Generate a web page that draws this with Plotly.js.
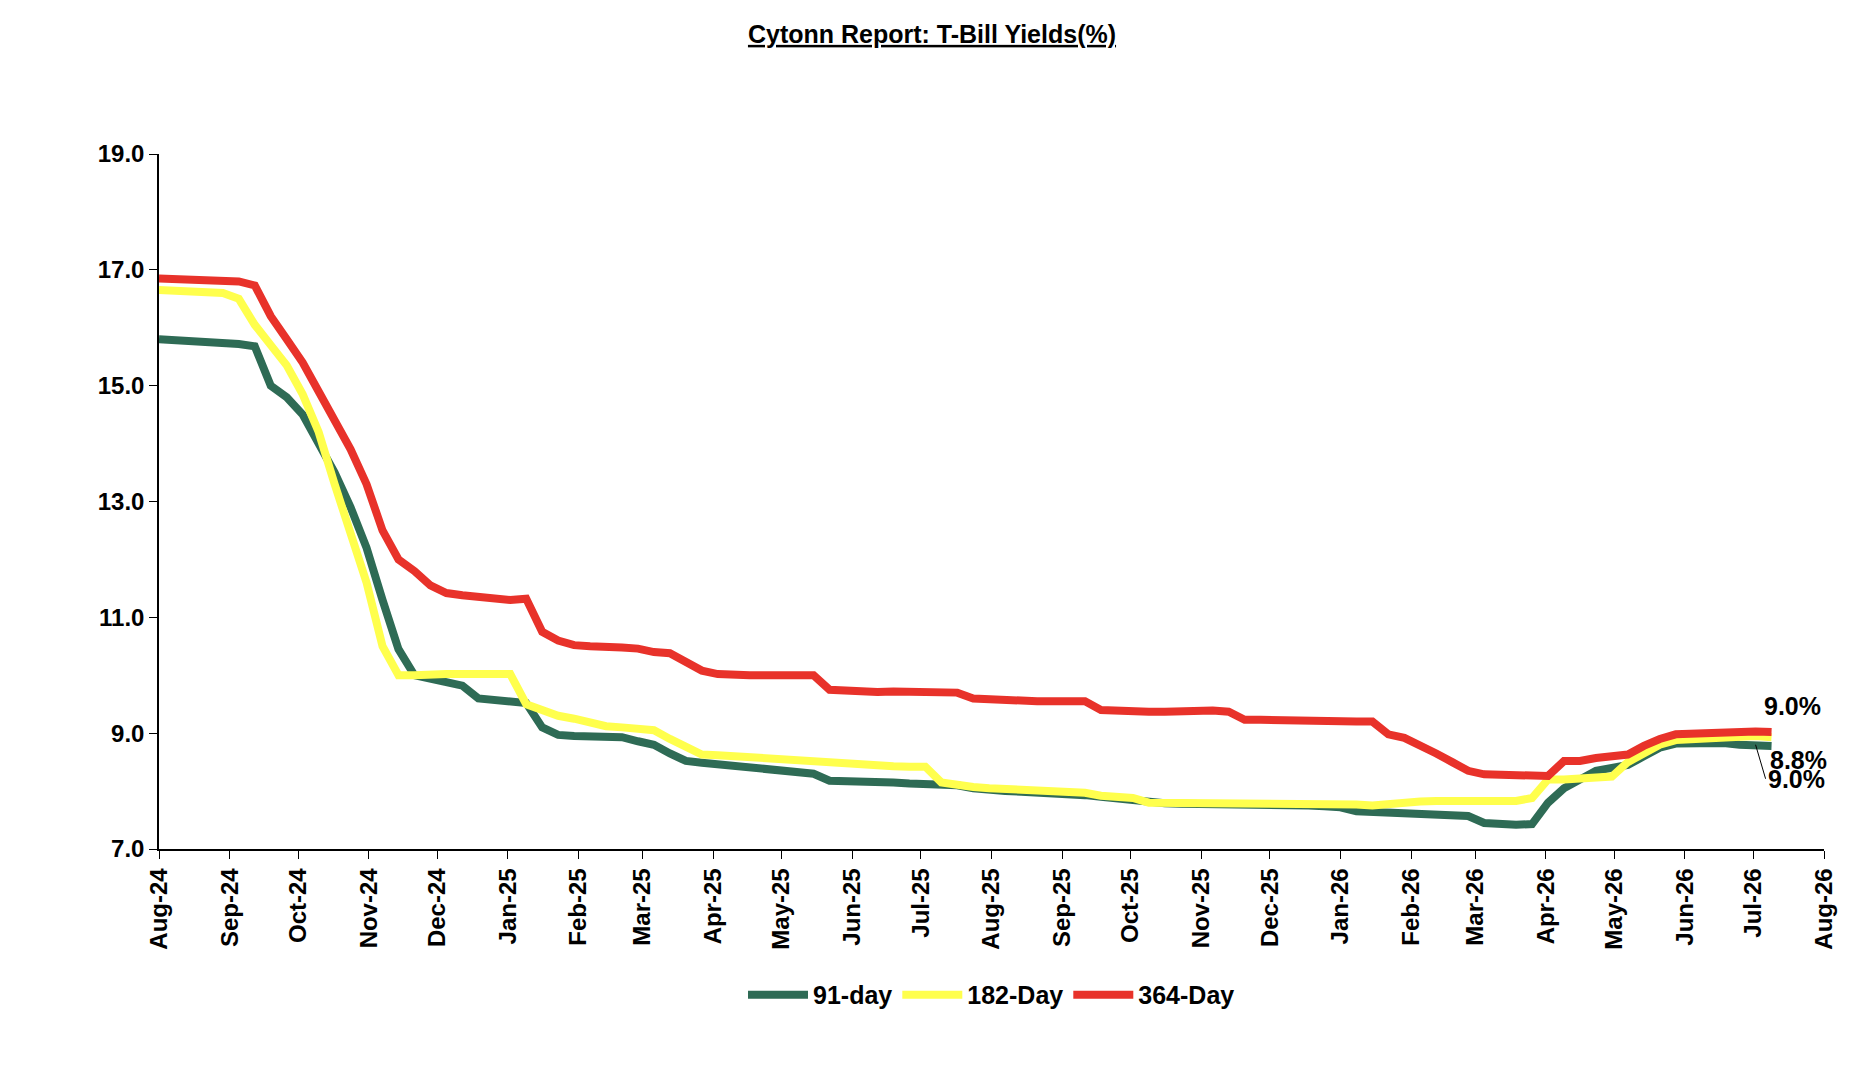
<!DOCTYPE html>
<html>
<head>
<meta charset="utf-8">
<script src="https://cdn.plot.ly/plotly-3.0.1.min.js"></script>
<style>body{margin:0;background:#fff}</style>
</head>
<body>
<div id="chart" style="width:1864px;height:1066px"></div>
<script>
// Weekly auction dates, first week of Aug-24 onwards (102 weeks)
const START_DATE = "2024-08-01";
const WEEKS = 102;
const yTicks = [7, 9, 11, 13, 15, 17, 19];

const day91 = [15.8,15.79,15.78,15.76,15.74,15.72,15.68,15.0,14.8,14.5,
  14.0,13.5,12.9,12.2,11.3,10.45,10.0,9.95,9.9,9.82,
  9.6,9.57,9.55,9.52,9.1,8.97,8.95,8.94,8.93,8.93,
  8.86,8.8,8.65,8.52,8.49,8.46,8.43,8.4,8.38,8.35,
  8.32,8.3,8.18,8.18,8.15,8.15,8.15,8.13,8.12,8.12,
  8.1,8.05,8.01,8.0,7.99,7.98,7.96,7.94,7.93,7.9,
  7.87,7.84,7.8,7.79,7.78,7.78,7.78,7.78,7.78,7.78,
  7.75,7.75,7.75,7.74,7.72,7.65,7.64,7.62,7.61,7.6,
  7.59,7.58,7.57,7.45,7.42,7.42,7.43,7.8,8.05,8.2,
  8.35,8.4,8.45,8.6,8.75,8.82,8.83,8.83,8.83,8.8,
  8.78,8.78];

const day182 = [16.65,16.64,16.63,16.62,16.6,16.5,16.05,15.7,15.35,14.85,
  14.2,13.3,12.5,11.6,10.5,10.0,10.0,10.02,10.02,10.02,
  10.02,10.02,10.02,9.5,9.4,9.3,9.25,9.18,9.12,9.1,
  9.07,9.05,8.9,8.75,8.63,8.62,8.6,8.59,8.58,8.56,
  8.52,8.5,8.48,8.47,8.46,8.45,8.43,8.42,8.42,8.15,
  8.1,8.07,8.05,8.04,8.02,8.01,8.0,7.98,7.97,7.92,
  7.9,7.88,7.8,7.8,7.8,7.8,7.8,7.8,7.8,7.8,
  7.8,7.79,7.79,7.78,7.78,7.77,7.75,7.78,7.8,7.82,
  7.83,7.83,7.83,7.83,7.83,7.83,7.88,8.2,8.2,8.21,
  8.22,8.25,8.5,8.65,8.8,8.88,8.9,8.92,8.92,8.95,
  8.95,8.93];

const day364 = [16.85,16.84,16.83,16.82,16.81,16.8,16.73,16.2,15.8,15.4,
  14.9,14.4,13.9,13.3,12.5,12.0,11.8,11.55,11.42,11.38,
  11.35,11.32,11.3,11.32,10.75,10.6,10.52,10.5,10.5,10.48,
  10.46,10.4,10.38,10.22,10.08,10.02,10.0,10.0,10.0,10.0,
  10.0,10.0,9.75,9.73,9.72,9.71,9.72,9.72,9.72,9.72,
  9.7,9.6,9.58,9.57,9.57,9.55,9.55,9.54,9.55,9.4,
  9.38,9.37,9.37,9.37,9.38,9.39,9.39,9.37,9.23,9.23,
  9.22,9.22,9.2,9.2,9.2,9.2,9.2,8.98,8.92,8.8,
  8.65,8.5,8.35,8.29,8.28,8.28,8.27,8.26,8.52,8.52,
  8.57,8.6,8.63,8.78,8.9,8.98,8.99,8.99,9.0,9.04,
  9.03,9.02];

const seriesNames = ["91-day", "182-Day", "364-Day"];
const seriesColors = ["#2e6b55", "#ffff4d", "#e8322a"];

const dates = [];
const d0 = new Date(START_DATE + "T00:00:00Z");
for (let i = 0; i < WEEKS; i++) {
  const d = new Date(d0.getTime() + i * 7 * 86400000);
  dates.push(d.toISOString().slice(0, 10));
}

const FONT = "Liberation Sans, Arial, sans-serif";
const lastDate = dates[dates.length - 1];

const traces = [day91, day182, day364].map(function (ys, k) {
  return {
    x: dates, y: ys, name: seriesNames[k], type: "scatter", mode: "lines",
    line: { color: seriesColors[k], width: 8 }
  };
});

const tickFont = { family: FONT, size: 24, color: "#000", weight: 700 };
const labelFont = { family: FONT, size: 25, color: "#000", weight: 700 };

Plotly.newPlot("chart", traces, {
  width: 1864, height: 1066,
  margin: { l: 159, r: 40, t: 154, b: 217 },
  paper_bgcolor: "#fff", plot_bgcolor: "#fff",
  title: {
    text: "<b><u>Cytonn Report: T-Bill Yields(%)</u></b>",
    font: { family: FONT, size: 25, color: "#000" },
    x: 0.5, xanchor: "center", y: 0.968, yanchor: "middle"
  },
  xaxis: {
    type: "date", range: ["2024-08-01", "2026-08-01"],
    dtick: "M1", tick0: "2024-08-01", tickformat: "%b-%y", tickangle: -90,
    showgrid: false, showline: true, linecolor: "#000", linewidth: 1.5,
    ticks: "outside", ticklen: 8, tickcolor: "#000", tickfont: tickFont,
    zeroline: false
  },
  yaxis: {
    range: [7, 19], tickmode: "array", tickvals: yTicks,
    tickformat: ".1f", ticksuffix: "%",
    showgrid: false, showline: true, linecolor: "#000", linewidth: 1.5,
    ticks: "outside", ticklen: 8, tickcolor: "#000", tickfont: tickFont,
    zeroline: false
  },
  showlegend: true,
  legend: {
    orientation: "h", x: 0.5, xanchor: "center", y: -0.21, yanchor: "middle",
    font: labelFont, itemwidth: 60
  },
  annotations: [
    { x: lastDate, y: day364[WEEKS - 1], text: "9.0%", showarrow: false,
      xanchor: "left", yanchor: "bottom", xshift: -10, yshift: 10, font: labelFont },
    { x: lastDate, y: day91[WEEKS - 1], text: "8.8%", showarrow: false,
      xanchor: "left", yanchor: "middle", xshift: -4, yshift: -14, font: labelFont },
    { x: "2026-07-02", y: day91[WEEKS - 3], text: "9.0%", showarrow: true,
      arrowhead: 0, arrowwidth: 1, arrowcolor: "#000", ax: 10, ay: 34,
      xanchor: "left", yanchor: "middle", font: labelFont }
  ]
}, { displayModeBar: false });
</script>
</body>
</html>
